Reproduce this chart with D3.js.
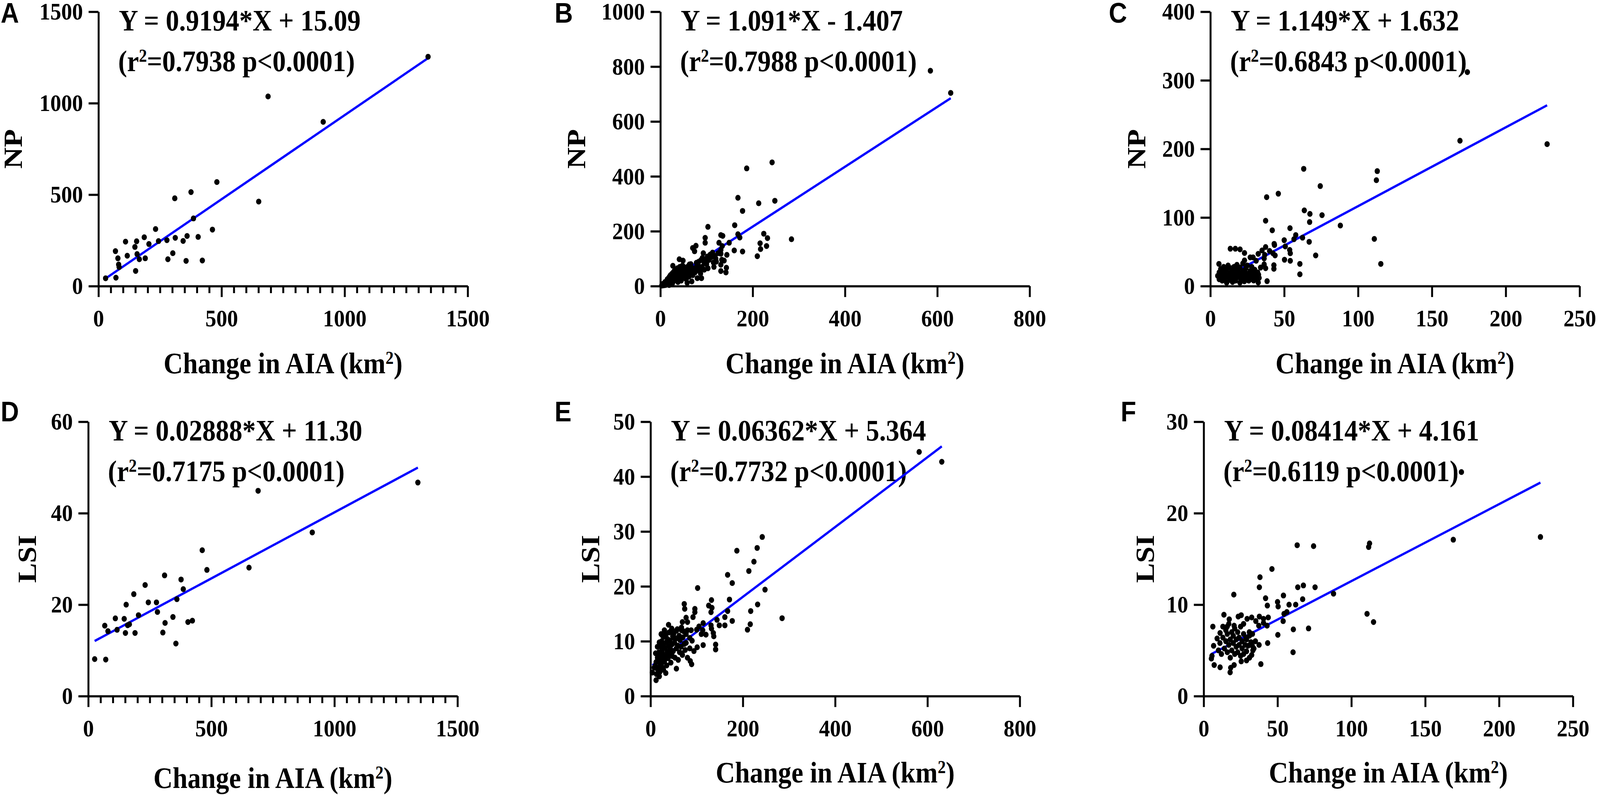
<!DOCTYPE html>
<html>
<head>
<meta charset="utf-8">
<script src="https://cdn.jsdelivr.net/npm/d3@7"></script>
<style>
  html, body { margin: 0; padding: 0; overflow: hidden; background: #fff; }
  svg { display: block; width: 100vw; height: 100vh; }
</style>
</head>
<body>
<svg id="chart"></svg>
<script>
// ---- data ----
// [change in AIA (km2), metric]
const pointsA = [
  [29,43],[71,46],[82,118],[84,104],[151,83],[69,191],[79,152],[117,166],[157,175],[166,147],
  [190,152],[148,214],[110,243],[155,245],[205,230],[244,246],[278,251],[344,247],[186,267],[232,312],
  [312,264],[360,274],[405,269],[302,180],[282,147],[356,138],[422,140],[386,370],[463,309],[310,480],
  [376,514],[481,569],[651,462],[689,1037],[913,898],[1339,1254]
];
const pointsB = [
  [629,704],[585,785],[242,451],[187,429],[168,322],[213,302],[248,311],[178,274],[103,216],[161,222],
  [131,186],[135,183],[168,189],[172,177],[224,191],[232,175],[284,171],[149,158],[127,158],[97,176],
  [97,158],[216,156],[230,146],[217,135],[210,109],[160,130],[178,126],[134,146],[131,132],[131,118],
  [144,114],[133,96],[138,93],[131,78],[143,67],[131,55],[142,50],[77,147],[70,139],[74,127],
  [113,122],[108,115],[102,108],[93,120],[91,103],[115,86],[116,70],[103,65],[121,89],[41,98],
  [49,93],[27,74],[83,89],[87,46],[89,29],[80,29],[68,17],[58,12],[63,79],[70,65],[78,70],
  [3,2],[5,8],[7,3],[9,6],[11,4],[13,12],[15,6],[17,10],[19,4],[21,14],[23,8],[5,5],[8,10],
  [10,15],[12,8],[14,20],[15,25],[16,12],[18,30],[20,18],[20,35],[22,40],[24,25],[25,45],[26,10],
  [28,50],[28,30],[30,55],[30,20],[32,38],[33,60],[35,45],[35,28],[37,65],[38,15],[40,50],[40,35],
  [42,70],[43,58],[45,40],[45,20],[47,62],[48,75],[50,48],[50,30],[52,55],[53,68],[55,40],[56,25],
  [58,60],[60,50],[60,72],[62,35],[64,58],[65,45],[66,80],[68,55],[70,40],[72,60],[75,50],[78,85],
  [80,62],[82,75],[85,55],[88,95],[90,70],[95,85],[100,100],[105,95],[110,105],[118,110],[120,100],
  [125,120],[100,80],[95,60]
];
const pointsC = [
  [63.2,171],[113,167.6],[112.4,154.4],[74.4,145.8],[46,134.7],[38.1,129.7],[63.6,110.4],[67.4,105.3],
  [75.6,103.4],[67.2,93.4],[37.4,95.3],[88,88.3],[41.9,81.4],[53.9,84.5],[57.8,74.4],[62.4,70.6],
  [56.6,68.4],[50,66.9],[66.9,64.6],[111,68.8],[43.2,61.6],[43.4,59.9],[50.7,57.8],[37.4,57],[35,52],
  [53.7,52.7],[54.1,47.9],[40.1,51.3],[42.4,47.9],[43.8,44.7],[32.4,47],[36.8,45.6],[71.3,44.7],
  [27,41.9],[28.9,41.9],[31,36.9],[36.4,40.3],[50.2,38.4],[54.1,36.9],[60.6,32.4],[60.6,17.2],
  [115.4,32.4],[43,30.5],[43,25.2],[36.4,31.8],[37.4,26.1],[38.4,7.2],[32.6,16.7],[32.4,5.3],
  [29.3,8.1],[13.5,54.5],[16.9,54.5],[20.1,53.6],[23.1,48.3],[5.8,32.4],[23.1,37.5],
  [169,212],[228,207],[174,312],
  [5,15],[6,20],[6,10],[7,25],[7,13],[8,18],[8,8],[9,22],[9,28],[10,12],[10,17],[11,5],[11,24],
  [12,14],[12,30],[13,19],[13,9],[14,26],[14,15],[15,6],[15,21],[16,12],[16,28],[17,17],[17,8],
  [18,24],[18,31],[19,13],[19,20],[20,5],[20,27],[21,16],[21,10],[22,22],[22,33],[23,14],[23,7],
  [24,19],[24,26],[25,11],[25,30],[26,17],[26,8],[27,22],[28,13],[28,28],[29,18],[30,10],[30,24],
  [31,15],[32,20],[33,12],[34,27]
];
const pointsD = [
  [26,8.1],[71,8.0],[67,15.4],[80,14.2],[110,17.0],[117,14.5],[146,16.9],[151,13.8],[154,20.0],[160,15.5],
  [167,15.7],[185,22.3],[190,13.8],[204,17.7],[231,24.3],[244,20.5],[277,20.5],[281,18.4],[303,13.9],[310,26.4],
  [312,16.0],[344,17.3],[356,11.5],[360,21.2],[377,25.5],[386,23.4],[405,16.2],[423,16.5],[463,31.9],[482,27.6],
  [653,28.1],[690,44.9],[910,35.8],[1339,46.7]
];
const pointsE = [
  [631,42.7],[582,44.5],[242,29],[231,27],[187,26.5],[224,24.5],[213,22.8],[167,22.1],[177,20.6],[102,19.7],
  [248,19.4],[171,17.6],[132,17.5],[232,16.7],[73,16.8],[74,15.9],[96,15.9],[96,15.3],[126,16.5],[133,16.1],
  [131,15.3],[167,15.5],[217,15.5],[285,14.2],[161,14.4],[144,13.9],[177,13.7],[149,12.9],[161,12.9],[216,13.1],
  [210,12.1],[92,14.4],[77,14.3],[69,13.5],[80,13.5],[39,13.0],[114,13.3],[105,12.7],[131,12.9],[132,12.3],
  [136,11.5],[137,10.9],[113,12.0],[110,11.3],[120,11.2],[100,12.1],[88,12.0],[80,12.0],[67,12.0],[56,11.9],
  [46,12.3],[23,11.3],[77,11.3],[85,10.6],[62,10.8],[51,10.6],[90,10.1],[77,9.7],[114,9.3],[101,8.9],
  [85,8.7],[94,8.2],[141,9.4],[141,8.5],[69,7.5],[80,7.0],[86,6.4],[89,5.8],[56,5.0],[33,4.2],
  [12,2.9],[19,3.6],[4,4.3],[8,5.2],
  [10,5.5],[12,6.2],[14,5.0],[15,7.0],[16,6.5],[18,4.6],[18,8.0],[20,7.4],[21,5.8],[22,9.0],[23,6.8],
  [24,10.0],[25,8.3],[26,5.2],[27,7.6],[28,9.5],[29,10.8],[30,6.3],[31,8.8],[32,7.2],[33,11.2],[34,9.8],
  [35,5.6],[36,8.1],[37,10.4],[38,6.9],[39,9.1],[40,11.6],[41,7.7],[42,10.1],[43,8.6],[44,6.1],[45,12.0],
  [46,9.4],[47,7.3],[48,10.9],[49,8.2],[50,11.3],[52,9.7],[53,7.0],[55,10.5],[56,8.7],[58,12.2],[59,9.2],
  [60,6.6],[62,11.0],[63,8.0],[64,10.2],[66,9.0],[67,12.5],[68,7.8],[70,10.7],[72,11.8],[73,9.5],[75,8.4],
  [13,4.0],[17,5.2],[20,4.4],[24,6.0],[28,4.8],[15,9.0],[19,9.8],[26,11.0],[30,12.0],[11,7.8]
];
const pointsF = [
  [63.3,16.5],[74.4,16.4],[112.3,16.7],[111.7,16.3],[46.2,13.9],[38.1,13.0],[37.7,11.9],[20.4,11.1],
  [63.7,11.9],[67.5,12.1],[75.4,11.9],[54,11.0],[87.9,11.2],[41.9,10.7],[43.1,9.9],[50,10.3],[50.4,9.8],
  [57.8,10.0],[62.3,10.0],[67,10.6],[56.3,9.2],[54.4,9.0],[53.8,8.2],[110.6,9.0],[115,8.1],[71,7.4],
  [60.7,7.3],[50.2,6.7],[43.3,5.8],[37.5,5.6],[60.5,4.8],[38.7,3.5],[13.7,8.9],[6.2,7.6],[17.3,8.4],
  [23.4,8.7],[25.4,8.85],[29.4,8.45],[32.5,8.6],[37.7,8.7],[40.5,8.45],[43.7,8.6],[35.3,8.2],[37.3,7.7],
  [42.9,7.7],[40.5,8.0],[27,7.9],[20.6,7.7],[15.9,7.6],[11.1,6.9],[30.9,7.0],[28.6,6.4],[9.1,6.3],
  [6.7,5.5],[5.6,4.4],[5.2,4.1],[7.1,3.4],[11.1,3.15],[17.9,2.6],[18.3,3.1],[32.9,5.5],[33.3,5.0],
  [32.5,4.5],[29,3.9],[25.4,3.8],[20.6,3.4],
  [169,17.1],[228,17.4],[174.5,24.5],
  [10,5.0],[11,5.8],[12,4.6],[13,6.4],[13,7.6],[14,5.2],[15,6.0],[15,7.2],[16,4.8],[16,6.8],[17,5.6],
  [17,7.9],[18,4.2],[18,6.2],[19,5.0],[19,7.0],[20,5.8],[20,6.6],[21,4.6],[21,7.4],[22,5.4],[22,6.2],
  [23,4.8],[23,7.0],[24,5.6],[24,6.4],[25,4.4],[25,7.6],[26,5.2],[26,6.0],[27,6.8],[27,4.6],[28,5.6],
  [29,6.2],[29,4.9],[30,5.5],[31,6.6],[31,4.2],[32,5.9],[33,6.8],[34,5.2],[35,6.0]
];

// fitted lines: [slope, intercept], r squared
const fitA = [0.9194, 15.09],  r2A = '0.7938';
const fitB = [1.091, -1.407],  r2B = '0.7988';
const fitC = [1.149, 1.632],   r2C = '0.6843';
const fitD = [0.02888, 11.30], r2D = '0.7175';
const fitE = [0.06362, 5.364], r2E = '0.7732';
const fitF = [0.08414, 4.161], r2F = '0.6119';

const eqA = 'Y = 0.9194*X + 15.09';
const eqB = 'Y = 1.091*X - 1.407';
const eqC = 'Y = 1.149*X + 1.632';
const eqD = 'Y = 0.02888*X + 11.30';
const eqE = 'Y = 0.06362*X + 5.364';
const eqF = 'Y = 0.08414*X + 4.161';

// tick labels
const ticksX1500 = [0, 500, 1000, 1500];
const ticksX800 = [0, 200, 400, 600, 800];
const ticksX250 = [0, 50, 100, 150, 200, 250];
const ticksY1500 = [0, 500, 1000, 1500];
const ticksY1000 = [0, 200, 400, 600, 800, 1000];
const ticksY400 = [0, 100, 200, 300, 400];
const ticksY60 = [0, 20, 40, 60];
const ticksY50 = [0, 10, 20, 30, 40, 50];
const ticksY30 = [0, 10, 20, 30];
const minor1500 = d3.range(50, 1500, 50).filter(v => v % 500 !== 0);

const labels = ['A', 'B', 'C', 'D', 'E', 'F'];
const yTitles = ['NP', 'NP', 'NP', 'LSI', 'LSI', 'LSI'];

// ---- layout (in the 4550 x 2034 frame) ----
const W = 4550, H = 2034;
const plotW = 1050, plotH = 702;

const panels = [
  { points: pointsA, fit: fitA, r2: r2A, eq: eqA, xMax: 1500, yMax: 1500, xTicks: ticksX1500, yTicks: ticksY1500, minor: minor1500,
    left: 280, bottom: 732, letterX: 0, letterY: 58, yTitleX: 62, xTitleY: 955 },
  { points: pointsB, fit: fitB, r2: r2B, eq: eqB, xMax: 800, yMax: 1000, xTicks: ticksX800, yTicks: ticksY1000, minor: [],
    left: 1878, bottom: 732, letterX: 1575, letterY: 58, yTitleX: 1664, xTitleY: 955 },
  { points: pointsC, fit: fitC, r2: r2C, eq: eqC, xMax: 250, yMax: 400, xTicks: ticksX250, yTicks: ticksY400, minor: [],
    left: 3442, bottom: 732, letterX: 3151, letterY: 58, yTitleX: 3257, xTitleY: 955 },
  { points: pointsD, fit: fitD, r2: r2D, eq: eqD, xMax: 1500, yMax: 60, xTicks: ticksX1500, yTicks: ticksY60, minor: minor1500,
    left: 251, bottom: 1781, letterX: 0, letterY: 1078, yTitleX: 102, xTitleY: 2016 },
  { points: pointsE, fit: fitE, r2: r2E, eq: eqE, xMax: 800, yMax: 50, xTicks: ticksX800, yTicks: ticksY50, minor: [],
    left: 1850, bottom: 1781, letterX: 1575, letterY: 1078, yTitleX: 1704, xTitleY: 2002 },
  { points: pointsF, fit: fitF, r2: r2F, eq: eqF, xMax: 250, yMax: 30, xTicks: ticksX250, yTicks: ticksY30, minor: [],
    left: 3423, bottom: 1781, letterX: 3185, letterY: 1078, yTitleX: 3281, xTitleY: 2002 }
];

const serif = '"Liberation Serif", "Times New Roman", serif';
const sans = '"Liberation Sans", Arial, sans-serif';
const bigFont = 76, tickFont = 62, supFont = 46;
const lineW = 5.5;

// the frame is scaled to whatever the window really is
const svg = d3.select('#chart')
  .attr('viewBox', [0, 0, W, H])
  .attr('preserveAspectRatio', 'none')
  .style('background', '#fff');

function styleAxis(g) {
  g.select('.domain').attr('stroke', '#000').attr('stroke-width', lineW);
  g.selectAll('.tick line').attr('stroke', '#000').attr('stroke-width', lineW);
  g.selectAll('.tick text')
    .attr('fill', '#000')
    .style('font-family', serif)
    .style('font-weight', 'bold')
    .style('font-size', tickFont + 'px');
}

// text with a superscript 2 in the middle
function supText(sel, before, after) {
  sel.append('tspan').text(before);
  sel.append('tspan').attr('dy', -24).style('font-size', supFont + 'px').text('2');
  sel.append('tspan').attr('dy', 24).text(after);
}

panels.forEach((p, i) => {
  const x = d3.scaleLinear().domain([0, p.xMax]).range([p.left, p.left + plotW]);
  const y = d3.scaleLinear().domain([0, p.yMax]).range([p.bottom, p.bottom - plotH]);
  const top = p.bottom - plotH;
  const g = svg.append('g');

  // panel letter
  g.append('text')
    .attr('x', p.letterX + 2)
    .attr('y', p.letterY)
    .style('font-family', sans)
    .style('font-weight', 'bold')
    .style('font-size', '72px')
    .text(labels[i]);

  // equation
  const eqG = g.append('g')
    .style('font-family', serif)
    .style('font-weight', 'bold')
    .style('font-size', bigFont + 'px');
  eqG.append('text')
    .attr('x', p.left + 58)
    .attr('y', top + 48)
    .text(p.eq);
  eqG.append('text')
    .attr('x', p.left + 56)
    .attr('y', top + 152)
    .call(supText, '(r', '=' + p.r2 + ' p<0.0001)');

  // fitted line, over the range of the data
  const ext = d3.extent(p.points, d => d[0]);
  g.append('path')
    .datum(ext)
    .attr('fill', 'none')
    .attr('stroke', '#0000ff')
    .attr('stroke-width', 6)
    .attr('d', d3.line()
      .x(d => x(d))
      .y(d => y(p.fit[0] * d + p.fit[1])));

  // points
  g.append('g')
    .selectAll('circle')
    .data(p.points)
    .join('circle')
    .attr('cx', d => x(d[0]))
    .attr('cy', d => y(d[1]))
    .attr('r', 7.5)
    .attr('fill', '#000');

  // axes
  if (p.minor.length) {
    g.append('g')
      .attr('transform', `translate(0,${p.bottom})`)
      .call(d3.axisBottom(x).tickValues(p.minor).tickSize(18).tickSizeOuter(0).tickFormat(''))
      .call(a => a.select('.domain').remove())
      .call(styleAxis);
  }
  g.append('g')
    .attr('transform', `translate(0,${p.bottom})`)
    .call(d3.axisBottom(x).tickValues(p.xTicks).tickSize(28).tickSizeOuter(0).tickPadding(31).tickFormat(d3.format('d')))
    .call(styleAxis);
  g.append('g')
    .attr('transform', `translate(${p.left},0)`)
    .call(d3.axisLeft(y).tickValues(p.yTicks).tickSize(28).tickSizeOuter(0).tickPadding(16).tickFormat(d3.format('d')))
    .call(styleAxis);

  // axis titles
  g.append('text')
    .attr('x', p.left + plotW / 2)
    .attr('y', p.xTitleY)
    .attr('text-anchor', 'middle')
    .style('font-family', serif)
    .style('font-weight', 'bold')
    .style('font-size', bigFont + 'px')
    .call(supText, 'Change in AIA (km', ')');

  g.append('text')
    .attr('transform', `translate(${p.yTitleX},${(top + p.bottom) / 2}) rotate(-90)`)
    .attr('text-anchor', 'middle')
    .style('font-family', serif)
    .style('font-weight', 'bold')
    .style('font-size', bigFont + 'px')
    .text(yTitles[i]);
});
</script>
</body>
</html>
